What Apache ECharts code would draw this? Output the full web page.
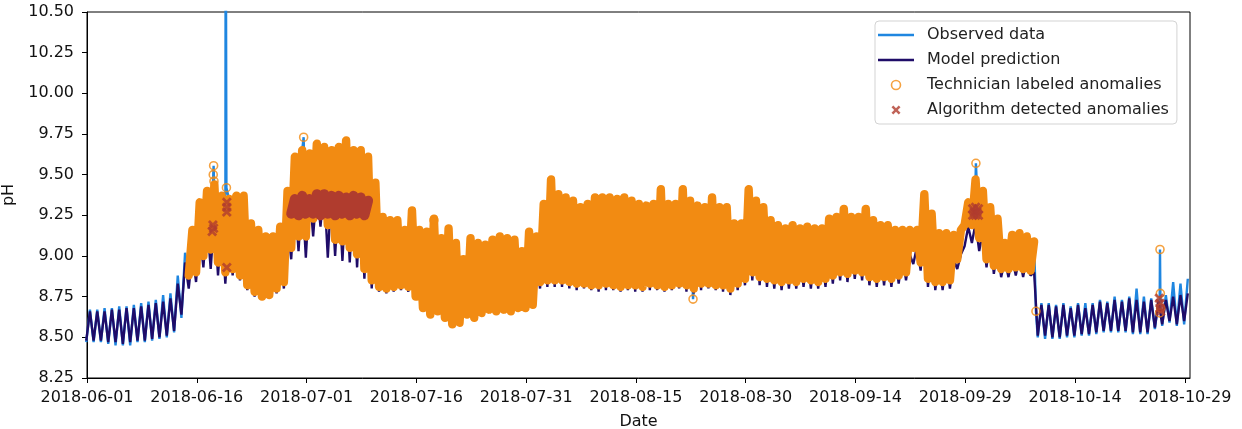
<!DOCTYPE html>
<html>
<head>
<meta charset="utf-8">
<title>pH anomalies</title>
<script src="https://cdn.jsdelivr.net/npm/echarts@6/dist/echarts.min.js"></script>
<style>
  html, body { margin: 0; padding: 0; background: #fff; }
  #chart { width: 1242px; height: 429px; }
</style>
</head>
<body>
<div id="chart"></div>
<script>
// x is counted in days from 2018-06-01, one daily low and one daily high per day
const startDate = Date.UTC(2018, 5, 1);
const xTicks = [0, 15, 30, 45, 60, 75, 90, 105, 120, 135, 150];

const obsLow = [
  8.47, 8.47, 8.47, 8.46, 8.45, 8.45, 8.45, 8.47, 8.47, 8.48, 8.49, 8.50, 8.53, 8.62,
  8.88, 8.90, 9.00, 9.04, 8.96, 8.90, 8.92, 8.88, 8.82, 8.78, 8.75, 8.76, 8.80, 8.84, 9.05, 9.12,
  9.12, 9.23, 9.27, 9.19, 9.10, 9.09, 9.05, 9.01, 8.92, 8.85,
  8.81, 8.80, 8.81, 8.82, 8.81, 8.75, 8.68, 8.64, 8.66, 8.62, 8.58, 8.59, 8.64, 8.62, 8.65, 8.67,
  8.66, 8.67, 8.66, 8.68, 8.68, 8.70, 8.84, 8.85, 8.85, 8.85,
  8.84, 8.83, 8.83, 8.82, 8.82, 8.83, 8.82, 8.81, 8.82, 8.82, 8.81, 8.83, 8.82, 8.81, 8.82, 8.83,
  8.82, 8.80, 8.83, 8.83, 8.82, 8.82, 8.80, 8.83, 8.86,
  8.90, 8.87, 8.86, 8.85, 8.84, 8.85, 8.84, 8.86, 8.85, 8.84, 8.86, 8.88, 8.90, 8.89, 8.91, 8.90,
  8.87, 8.86, 8.87, 8.86, 8.88, 8.90, 9.05, 8.96, 8.86, 8.84, 8.84, 8.85, 8.98, 9.19, 9.19, 9.11,
  8.98, 8.94, 8.92, 8.92, 8.93, 8.92, 8.91,
  8.50, 8.49, 8.49, 8.49, 8.50, 8.50, 8.51, 8.51, 8.52, 8.53, 8.53, 8.53, 8.53, 8.52, 8.52, 8.52,
  8.55, 8.57, 8.59, 8.57, 8.58
];
const obsHigh = [
  8.67, 8.67, 8.68, 8.68, 8.69, 8.69, 8.70, 8.71, 8.72, 8.73, 8.76, 8.77, 8.88, 9.02,
  9.16, 9.33, 9.40, 9.44, 9.37, 9.35, 9.37, 9.37, 9.20, 9.16, 9.12, 9.12, 9.18, 9.40, 9.61, 9.65,
  9.63, 9.69, 9.67, 9.65, 9.67, 9.71, 9.65, 9.65, 9.61, 9.45,
  9.24, 9.22, 9.22, 9.16, 9.28, 9.16, 9.15, 9.23, 9.11, 9.17, 9.08, 8.98, 9.11, 9.08, 9.07, 9.10,
  9.12, 9.11, 9.10, 9.03, 9.15, 9.12, 9.32, 9.47, 9.38, 9.36,
  9.34, 9.30, 9.32, 9.36, 9.36, 9.36, 9.35, 9.36, 9.34, 9.32, 9.31, 9.32, 9.41, 9.32, 9.32, 9.41,
  9.34, 9.31, 9.30, 9.36, 9.30, 9.30, 9.20, 9.20, 9.41,
  9.34, 9.30, 9.22, 9.19, 9.17, 9.19, 9.17, 9.18, 9.17, 9.17, 9.23, 9.24, 9.29, 9.24, 9.24, 9.29,
  9.22, 9.19, 9.19, 9.16, 9.16, 9.16, 9.16, 9.38, 9.26, 9.14, 9.14, 9.13, 9.16, 9.33, 9.47, 9.40,
  9.30, 9.23, 9.08, 9.13, 9.14, 9.12, 9.09,
  8.71, 8.71, 8.70, 8.71, 8.69, 8.71, 8.71, 8.71, 8.73, 8.72, 8.75, 8.73, 8.75, 8.80, 8.75, 8.74,
  8.73, 8.76, 8.84, 8.83, 8.86
];
const modelLow = [
  8.48, 8.48, 8.48, 8.47, 8.47, 8.46, 8.47, 8.48, 8.48, 8.49, 8.50, 8.51, 8.54, 8.64,
  8.80, 8.84, 8.93, 8.92, 8.88, 8.83, 8.88, 8.85, 8.79, 8.75, 8.73, 8.74, 8.77, 8.80, 8.98, 9.03,
  8.99, 9.12, 9.18, 8.99, 9.00, 8.97, 8.96, 8.93, 8.86, 8.80,
  8.78, 8.77, 8.78, 8.79, 8.78, 8.78, 8.71, 8.67, 8.69, 8.65, 8.61, 8.62, 8.67, 8.65, 8.68, 8.70,
  8.69, 8.70, 8.69, 8.71, 8.71, 8.73, 8.80, 8.81, 8.81, 8.81,
  8.80, 8.79, 8.80, 8.79, 8.78, 8.79, 8.79, 8.78, 8.79, 8.78, 8.78, 8.79, 8.79, 8.78, 8.79, 8.80,
  8.78, 8.77, 8.79, 8.80, 8.79, 8.78, 8.76, 8.79, 8.82,
  8.85, 8.82, 8.81, 8.80, 8.79, 8.80, 8.80, 8.81, 8.80, 8.80, 8.81, 8.83, 8.85, 8.84, 8.86, 8.85,
  8.82, 8.81, 8.82, 8.81, 8.83, 8.85, 8.95, 8.91, 8.81, 8.79, 8.79, 8.80, 8.92, 9.06, 9.08, 9.03,
  8.93, 8.89, 8.87, 8.87, 8.88, 8.87, 8.88,
  8.51, 8.51, 8.50, 8.50, 8.51, 8.51, 8.52, 8.52, 8.53, 8.54, 8.54, 8.54, 8.54, 8.53, 8.53, 8.53,
  8.56, 8.58, 8.60, 8.58, 8.60
];
const modelHigh = [
  8.66, 8.66, 8.66, 8.67, 8.67, 8.68, 8.68, 8.69, 8.70, 8.71, 8.72, 8.74, 8.83, 8.96,
  9.02, 9.15, 9.22, 9.25, 9.20, 9.18, 9.20, 9.18, 9.05, 9.00, 8.98, 8.98, 9.02, 9.20, 9.38, 9.40,
  9.40, 9.42, 9.42, 9.40, 9.40, 9.42, 9.40, 9.38, 9.35, 9.22,
  9.12, 9.10, 9.10, 9.04, 9.15, 9.04, 9.03, 9.10, 8.99, 9.04, 8.96, 8.88, 8.98, 8.96, 8.95, 8.98,
  9.00, 8.99, 8.98, 8.92, 9.02, 9.00, 9.15, 9.28, 9.22, 9.20,
  9.19, 9.15, 9.17, 9.20, 9.21, 9.20, 9.20, 9.21, 9.19, 9.17, 9.16, 9.17, 9.24, 9.17, 9.17, 9.24,
  9.19, 9.16, 9.15, 9.20, 9.15, 9.15, 9.06, 9.06, 9.22,
  9.19, 9.15, 9.07, 9.04, 9.02, 9.04, 9.02, 9.03, 9.02, 9.02, 9.08, 9.09, 9.14, 9.09, 9.09, 9.14,
  9.07, 9.04, 9.04, 9.01, 9.01, 9.01, 9.06, 9.23, 9.11, 8.99, 8.99, 8.98, 9.01, 9.18, 9.20, 9.15,
  9.12, 9.05, 8.98, 8.99, 9.00, 8.99, 8.90,
  8.70, 8.70, 8.69, 8.70, 8.68, 8.70, 8.68, 8.70, 8.72, 8.71, 8.73, 8.72, 8.74, 8.73, 8.72, 8.73,
  8.72, 8.73, 8.75, 8.76, 8.77
];

// single readings off the daily cycle, all circled by the technician
const spikeDay = [17.25, 17.3, 17.35, 18.95, 19.05, 29.6, 47.4, 82.8, 121.45, 129.65, 146.55, 146.6, 146.65, 146.7];
const spikeValue = [9.50, 9.555, 9.46, 11.5, 9.42, 9.73, 9.22, 8.735, 9.57, 8.66, 8.65, 9.04, 8.77, 8.68];

// technician labelled every reading in this run of days
const labelFirstDay = 14;
const labelLastDay = 129;

// algorithm detections: a dense run (daily low/high) and single points
const algBandDay = [28, 29, 30, 31, 32, 33, 34, 35, 36, 37, 38];
const algBandLow = [9.26, 9.25, 9.26, 9.26, 9.25, 9.26, 9.25, 9.26, 9.25, 9.26, 9.25];
const algBandHigh = [9.35, 9.37, 9.35, 9.38, 9.38, 9.37, 9.37, 9.36, 9.37, 9.36, 9.34];
const algPointDay = [17.1, 17.2, 17.3, 19.1, 19.1, 19.1, 19.1,
  121.0, 121.0, 121.2, 121.4, 121.4, 121.6, 121.8, 121.8,
  146.5, 146.6, 146.6, 146.7];
const algPointValue = [9.15, 9.19, 9.17, 9.33, 9.30, 9.27, 8.93,
  9.25, 9.29, 9.27, 9.25, 9.30, 9.27, 9.25, 9.29,
  8.74, 8.71, 8.68, 8.66];

const blue = '#1f86e0';
const navy = '#1f0c68';
const orange = '#f28b12';
const red = '#b03c2e';
const font = 'DejaVu Sans';
const xMark = 'path://M2,0L5,3L8,0L10,2L7,5L10,8L8,10L5,7L2,10L0,8L3,5L0,2Z';
const barIcon = 'path://M0,0H36V2.4H0Z';

function dailyPoints(lo, hi, from, to) {
  const pts = [];
  for (let d = from; d <= to; d++) {
    pts.push([d - 0.1, lo[d]]);
    pts.push([d + 0.4, hi[d]]);
  }
  return pts;
}

const spikes = spikeDay.map((d, i) => [d, spikeValue[i]]);
const observed = dailyPoints(obsLow, obsHigh, 0, obsLow.length - 1)
  .concat(spikes)
  .sort((a, b) => a[0] - b[0]);
const model = dailyPoints(modelLow, modelHigh, 0, modelLow.length - 1);
const labelBand = dailyPoints(obsLow, obsHigh, labelFirstDay, labelLastDay);

const algBand = [];
algBandDay.forEach((d, i) => {
  algBand.push([d - 0.1, algBandLow[i]]);
  algBand.push([d + 0.4, algBandHigh[i]]);
});
const algPoints = algPointDay.map((d, i) => [d, algPointValue[i]]);

function dayToDate(v) {
  return new Date(startDate + v * 86400000).toISOString().slice(0, 10);
}

const chart = echarts.init(document.getElementById('chart'));
const option = {
  animation: false,
  backgroundColor: '#fff',
  grid: {
    left: 87, right: 52, top: 12, bottom: 51,
    outerBoundsMode: 'none', containLabel: false,
    show: true, borderColor: '#000', borderWidth: 1
  },
  legend: {
    orient: 'vertical',
    left: 875, top: 21,
    padding: [6, 8, 6, 3],
    itemWidth: 36, itemHeight: 9, itemGap: 9,
    backgroundColor: 'rgba(255,255,255,0.9)',
    borderColor: '#d3d3d3', borderWidth: 1, borderRadius: 4,
    selectedMode: false,
    textStyle: { fontFamily: font, fontSize: 16, color: '#222', padding: [0, 0, 0, 8] },
    data: [
      { name: 'Observed data', icon: barIcon, itemStyle: { color: blue } },
      { name: 'Model prediction', icon: barIcon, itemStyle: { color: navy } },
      { name: 'Technician labeled anomalies', icon: 'circle',
        itemStyle: { color: 'rgba(0,0,0,0)', borderColor: orange, borderWidth: 1.6 } },
      { name: 'Algorithm detected anomalies', icon: xMark, itemStyle: { color: red } }
    ]
  },
  xAxis: {
    type: 'value', min: 0, max: 150.7, interval: 15,
    name: 'Date', nameLocation: 'middle', nameGap: 36,
    nameTextStyle: { fontFamily: font, fontSize: 16, color: '#111' },
    axisLine: { show: true, onZero: false, lineStyle: { color: '#000', width: 1 } },
    axisTick: { show: true, length: 5, customValues: xTicks, lineStyle: { color: '#000' } },
    axisLabel: {
      margin: 12, customValues: xTicks, formatter: dayToDate,
      fontFamily: font, fontSize: 16, color: '#111'
    },
    splitLine: { show: false }
  },
  yAxis: {
    type: 'value', min: 8.25, max: 10.5, interval: 0.25,
    name: 'pH', nameLocation: 'middle', nameGap: 60, nameRotate: 90,
    nameTextStyle: { fontFamily: font, fontSize: 16, color: '#111' },
    axisLine: { show: true, lineStyle: { color: '#000', width: 1 } },
    axisTick: { show: true, length: 5, lineStyle: { color: '#000' } },
    axisLabel: {
      margin: 13, formatter: v => v.toFixed(2),
      fontFamily: font, fontSize: 16, color: '#111'
    },
    splitLine: { show: false }
  },
  series: [
    {
      name: 'Observed data', type: 'line', data: observed,
      symbol: 'none', lineStyle: { color: blue, width: 2.4 }, itemStyle: { color: blue },
      z: 2, silent: true
    },
    {
      name: 'Model prediction', type: 'line', data: model,
      symbol: 'none', lineStyle: { color: navy, width: 2.4 }, itemStyle: { color: navy },
      z: 3, silent: true
    },
    {
      name: 'Technician labeled anomalies', type: 'scatter', data: spikes,
      symbol: 'circle', symbolSize: 8,
      itemStyle: { color: 'rgba(0,0,0,0)', borderColor: orange, borderWidth: 1.6 },
      z: 5, silent: true
    },
    {
      name: 'Technician labeled anomalies', type: 'line', data: labelBand,
      symbol: 'none',
      lineStyle: { color: orange, width: 8.4, cap: 'round', join: 'round' },
      itemStyle: { color: orange },
      z: 4, silent: true
    },
    {
      name: 'Algorithm detected anomalies', type: 'scatter', data: algPoints,
      symbol: xMark, symbolSize: 10, itemStyle: { color: red },
      z: 7, silent: true
    },
    {
      name: 'Algorithm detected anomalies', type: 'line', data: algBand,
      symbol: 'none',
      lineStyle: { color: red, width: 10, cap: 'round', join: 'round' },
      itemStyle: { color: red },
      z: 6, silent: true
    }
  ]
};
chart.setOption(option);
window.addEventListener('resize', () => chart.resize());
</script>
</body>
</html>
